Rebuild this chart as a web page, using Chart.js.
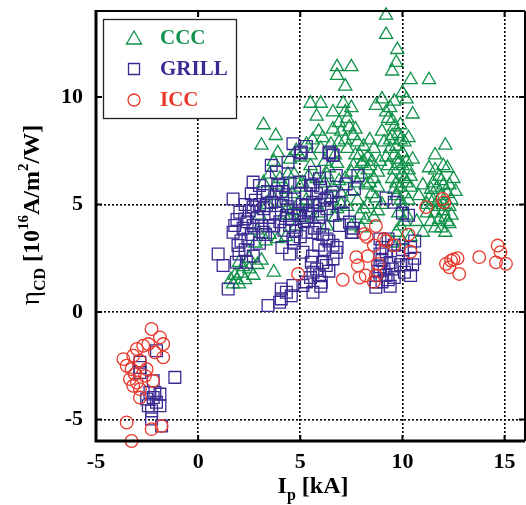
<!DOCTYPE html>
<html>
<head>
<meta charset="utf-8">
<script src="https://cdn.jsdelivr.net/npm/chart.js@4/dist/chart.umd.min.js"></script>
<style>
html,body{margin:0;padding:0;background:#fff;}
#wrap{width:526px;height:505px;}
</style>
</head>
<body>
<div id="wrap"><canvas id="c" width="526" height="505"></canvas></div>
<script>
// ---- data ----
const seriesNames = ['CCC', 'GRILL', 'ICC'];
const xTicks = [-5, 0, 5, 10, 15];
const yTicks = [-5, 0, 5, 10];

const cccPoints = [
  [9.2,13.8],[9.2,12.9],[9.75,12.2],[9.7,11.6],[9.5,11.2],[10.4,10.8],[11.3,10.8],[10.0,10.2],[10.2,9.9],[10.5,9.2],
  [9.0,9.9],[8.7,9.6],[9.2,9.3],[9.5,8.9],[9.3,9.0],[9.6,8.6],[9.8,8.3],[9.5,8.2],[9.9,8.0],[10.1,7.9],
  [9.7,7.7],[9.4,7.6],[10.0,7.4],[10.2,7.0],[9.8,7.1],[10.5,7.1],[9.6,6.6],[10.0,6.4],[10.2,6.0],[9.9,5.8],
  [10.1,5.5],[10.3,5.2],[9.7,5.4],[10.0,4.9],[10.2,4.5],[9.9,4.0],[10.4,3.5],[9.5,3.2],[10.0,6.8],[10.3,6.6],
  [9.4,8.0],[9.6,7.3],[9.8,6.9],[9.5,6.2],[9.7,6.0],[10.1,6.2],[9.9,5.2],[10.4,5.8],[10.4,6.3],[9.6,5.7],
  [9.8,4.6],[10.1,4.2],[9.7,3.7],[10.0,3.3],[9.3,6.8],[9.2,7.2],[9.0,8.4],[9.1,7.9],[10.3,8.1],[9.9,8.7],
  [9.4,9.5],[9.6,9.8],
  [6.8,11.4],[7.5,11.4],[6.8,11.0],[7.2,10.5],[7.1,9.7],[5.5,9.7],[6.0,9.7],[7.2,9.3],[5.8,9.1],[6.9,8.8],
  [7.0,8.4],[7.4,8.6],[6.6,8.5],[7.6,8.2],[7.8,7.9],[8.1,7.7],[7.2,8.0],[6.9,7.9],[8.3,7.2],[8.5,7.0],
  [7.7,7.3],[8.0,6.9],[8.3,6.6],[8.6,6.2],[8.8,5.8],[8.2,5.9],[8.5,5.5],[9.0,5.0],[8.1,4.8],[8.6,4.4],
  [7.5,6.5],[7.2,6.2],[7.8,5.2],[7.3,4.9],[8.2,4.3],[7.5,4.0],[7.0,5.5],[6.4,6.7],[6.2,6.0],[6.7,7.3],
  [6.0,7.6],[5.6,8.0],[5.9,8.4],[5.3,7.8],[5.0,7.2],[5.5,6.8],[6.5,5.3],[6.8,4.8],
  [7.3,7.6],[7.9,7.3],[8.1,7.0],[7.6,6.8],[8.4,6.8],[8.0,6.4],[7.8,6.0],[8.4,6.0],[7.5,5.6],[8.7,5.3],
  [8.3,5.0],[7.9,4.5],[8.8,4.7],[8.0,3.9],[8.8,6.5],[8.9,7.0],[8.6,7.6],[8.4,8.0],[7.7,8.5],[7.3,9.0],
  [7.5,9.5],[6.6,9.3],
  [5.5,7.3],[6.2,7.0],[6.5,7.8],[6.1,8.1],[6.8,6.9],[6.3,6.4],[5.8,6.2],[6.9,6.1],[5.4,6.3],[5.1,6.0],
  [4.7,6.4],[6.6,5.8],[7.0,5.0],[6.7,4.4],
  [12.1,7.75],[11.6,7.3],[11.3,6.7],[12.2,6.7],[12.5,6.2],[11.8,6.3],[11.0,5.9],[11.4,5.7],[11.7,5.8],[12.0,5.9],
  [12.2,5.5],[11.5,5.2],[11.9,5.4],[12.3,4.9],[11.2,4.6],[11.6,4.6],[12.1,4.4],[12.3,4.1],[11.6,3.9],[11.0,3.7],
  [12.1,3.7],[11.8,4.9],[10.8,5.4],[10.7,4.2],[12.4,5.2],[12.0,5.0],
  [11.5,6.0],[11.9,6.1],[12.3,5.9],[11.3,5.3],[11.7,5.1],[12.0,4.7],[11.4,4.2],[11.8,4.3],[12.4,4.5],[11.9,3.9],
  [11.2,5.0],[11.6,6.6],[12.0,6.8],[12.6,5.6],[12.2,4.2],
  [3.2,8.7],[3.8,8.2],[3.1,7.75],[3.9,7.4],[3.7,7.0],[4.8,7.5],[4.5,7.1],[3.2,6.0],[3.5,6.4],[4.0,6.2],
  [4.3,5.7],[3.6,5.4],[4.1,5.1],[4.6,5.5],[5.0,5.8],[5.3,5.2],[4.8,4.0],[4.2,4.5],[3.5,3.6],[3.9,3.4],
  [3.0,4.5],[2.8,3.2],[2.5,2.5],[2.9,2.2],[3.7,1.85],[4.5,4.5],[5.6,4.3],[6.0,4.6],[5.8,5.0],[6.3,4.0],
  [3.4,5.0],[3.8,5.9],[4.4,6.4],[4.9,5.0],[4.6,4.7],[3.3,3.3],[2.9,3.8],[4.3,3.5],[5.1,4.4],
  [1.9,1.5],[1.7,1.3],[2.1,1.8],[2.3,1.5],[2.0,1.3],[1.8,1.7],[2.2,2.1],[2.0,2.3],[1.6,1.5],[2.5,2.0],
  [2.7,1.7],[3.1,2.4]
];

const grillPoints = [
  [-2.04,-1.8],[-2.85,-2.34],[-2.85,-2.58],[-2.85,-2.81],[-1.14,-3.04],[-2.2,-3.2],[-2.36,-3.74],[-2.12,-3.74],
  [-1.87,-3.82],[-2.2,-3.98],[-2.04,-4.2],[-2.44,-4.36],[-1.87,-4.36],[-2.28,-4.6],[-1.79,-5.3],[-2.52,-4.05],[-2.28,-4.98],
  [0.98,2.7],[1.22,2.16],[1.47,1.07],[1.71,5.26],[2.04,4.64],[1.79,4.02],[1.71,3.71],[1.95,3.09],[1.87,2.31],
  [2.36,2.31],[2.44,3.4],[2.28,4.33],[2.69,4.88],[2.69,4.02],[2.69,6.04],[3.0,5.88],[3.18,5.42],[3.34,4.95],
  [3.18,3.71],[3.5,4.02],[3.58,6.82],[3.83,6.5],[3.83,5.57],[4.07,4.95],[4.15,5.88],[4.32,4.49],[4.48,4.02],
  [4.64,7.83],[4.4,6.97],[5.05,7.44],[4.97,6.04],[4.72,5.26],[4.97,4.49],[5.29,4.95],[5.62,5.88],[5.94,6.2],
  [6.43,7.44],[6.6,7.28],[6.76,6.35],[7.25,5.96],[7.82,6.35],[7.65,5.73],[6.6,5.57],[6.3,5.3],[5.95,5.0],
  [5.6,4.7],[5.3,4.4],[5.6,3.7],[5.95,4.0],[6.3,3.4],[6.6,3.1],[7.41,4.18],[7.57,3.71],[6.92,4.02],[5.29,3.71],
  [4.64,3.4],[4.48,2.7],[5.13,2.78],[5.54,2.31],[5.62,1.85],[5.94,1.69],[6.27,2.16],[6.6,2.47],[6.76,2.78],
  [6.03,1.38],[5.62,0.92],[5.13,1.23],[4.64,1.23],[4.32,0.92],[4.07,1.07],[4.07,0.61],[3.99,0.45],[3.42,0.3],[4.56,0.76],
  [2.2,3.9],[2.4,4.2],[2.6,3.6],[2.1,3.3],[2.3,2.9],[2.7,2.6],[2.5,4.7],[2.9,4.4],[3.1,4.0],[3.3,3.6],
  [3.0,3.2],[2.8,5.2],[3.4,5.6],[3.6,5.1],[3.8,4.6],[4.0,4.2],[4.2,3.8],[3.7,4.0],[3.5,4.4],[4.4,4.9],
  [4.6,4.3],[4.8,3.8],[5.0,3.5],[5.2,4.2],[5.4,4.6],[5.6,5.1],[5.8,5.5],[6.0,5.8],[6.2,5.2],[5.9,4.4],
  [5.7,3.9],[6.1,3.6],[6.3,4.8],[6.5,5.4],[5.5,5.9],[5.3,5.5],[5.1,5.0],[4.9,4.6],[4.3,5.3],[3.9,5.9],
  [2.6,5.5],[6.6,4.5],[6.4,3.3],[6.8,3.0],[6.2,2.9],[5.9,3.1],[5.6,2.6],[5.8,2.0],[6.1,2.3],[6.4,1.9],
  [5.5,1.6],[6.0,1.2],[5.3,1.4],[2.0,2.7],[1.9,4.3],[2.3,5.0],[4.7,3.2],[4.1,3.0],[3.2,4.8],[3.0,5.0],
  [4.5,6.0],[4.1,5.6],[5.7,6.5],[6.9,5.1],[7.1,4.6],
  [8.7,1.4],[8.7,1.15],[9.0,1.4],[9.2,1.7],[8.9,2.1],[9.0,2.4],[8.9,2.7],[9.0,3.0],[9.3,3.4],[8.9,3.4],
  [9.6,3.1],[9.8,2.6],[9.9,2.2],[10.1,1.85],[10.4,1.7],[10.5,2.2],[10.4,3.0],[10.6,2.5],[10.2,2.2],[9.5,2.0],
  [9.3,1.5],[8.9,1.7],[9.2,2.8],[9.6,1.6],[9.4,2.3],[10.0,2.9],[10.6,3.3],[9.1,2.0],[9.4,1.2],[8.8,1.9],
  [9.6,5.1],[10.3,4.5],[10.0,4.6],[9.2,5.3],[7.5,3.7],[7.6,3.9],[5.3,7.7],[5.0,7.4],[6.4,7.4],[6.6,7.3]
];

const iccPoints = [
  [-2.28,-0.79],[-1.87,-1.18],[-1.71,-1.49],[-2.44,-1.49],[-3.0,-1.72],[-2.69,-1.57],[-3.18,-2.03],[-3.66,-2.19],
  [-1.71,-2.11],[-2.12,-1.88],[-3.5,-2.5],[-3.26,-2.66],[-2.52,-2.66],[-3.34,-3.12],[-3.0,-3.28],[-2.85,-3.59],
  [-3.18,-3.43],[-2.6,-2.97],[-2.85,-3.98],[-2.2,-3.2],[-3.5,-5.14],[-3.26,-6.0],[-2.28,-5.45],[-1.79,-5.3],
  [-2.85,-2.27],[-3.1,-2.89],
  [4.89,1.77],[7.08,1.5],[7.74,2.55],[7.82,2.16],[7.9,1.6],[8.2,1.7],[8.14,3.63],[8.25,3.5],[8.7,4.0],[8.6,3.1],
  [9.1,3.4],[9.2,3.3],[8.8,2.24],[8.7,1.7],[8.6,1.4],[9.6,3.1],[10.3,3.6],[10.4,2.8],[8.3,2.6],
  [11.16,4.88],[11.97,5.26],[12.05,5.1],[12.13,2.24],[12.38,2.39],[12.5,2.45],[12.7,2.5],[12.3,2.08],[12.78,1.77],
  [13.76,2.55],[14.66,3.09],[14.8,2.78],[14.58,2.31],[15.07,2.24]
];

const colors = { CCC: '#11924a', GRILL: '#3b2a92', ICC: '#e8382c' };

function toXY(arr) { return arr.map(p => ({ x: p[0], y: p[1] })); }

const serif = '"Liberation Serif", "DejaVu Serif", serif';

const framePlugin = {
  id: 'frame',
  afterDatasetsDraw(chart) {
    const { ctx, chartArea: a, scales } = chart;
    ctx.save();
    ctx.strokeStyle = '#000';
    ctx.lineWidth = 2;
    ctx.beginPath(); ctx.moveTo(a.left, a.top); ctx.lineTo(a.right, a.top); ctx.stroke();
    ctx.beginPath(); ctx.moveTo(a.right, a.top); ctx.lineTo(a.right, a.bottom); ctx.stroke();
    ctx.lineWidth = 3;
    ctx.beginPath(); ctx.moveTo(a.left, a.top - 1); ctx.lineTo(a.left, a.bottom); ctx.lineTo(a.right, a.bottom); ctx.stroke();
    ctx.lineWidth = 2;
    xTicks.forEach(v => {
      const px = scales.x.getPixelForValue(v);
      ctx.beginPath(); ctx.moveTo(px, a.top); ctx.lineTo(px, a.top + 6); ctx.stroke();
      ctx.beginPath(); ctx.moveTo(px, a.bottom); ctx.lineTo(px, a.bottom - 6); ctx.stroke();
    });
    yTicks.forEach(v => {
      const py = scales.y.getPixelForValue(v);
      ctx.beginPath(); ctx.moveTo(a.left, py); ctx.lineTo(a.left + 6, py); ctx.stroke();
      ctx.beginPath(); ctx.moveTo(a.right, py); ctx.lineTo(a.right - 6, py); ctx.stroke();
    });
    ctx.restore();
  },
  afterDraw(chart) {
    const ctx = chart.ctx;
    ctx.save();
    // legend box
    ctx.fillStyle = '#fff';
    ctx.fillRect(103, 19, 133, 99);
    ctx.strokeStyle = '#222';
    ctx.lineWidth = 1.3;
    ctx.strokeRect(103.5, 19.5, 133, 99);
    const rows = [38, 69, 100];
    seriesNames.forEach((name, i) => {
      const cy = rows[i], cx = 134;
      ctx.strokeStyle = colors[name];
      ctx.lineWidth = 1.3;
      ctx.beginPath();
      if (name === 'CCC') {
        ctx.moveTo(cx, cy - 7); ctx.lineTo(cx + 7.5, cy + 6); ctx.lineTo(cx - 7.5, cy + 6); ctx.closePath();
      } else if (name === 'GRILL') {
        ctx.rect(cx - 5.5, cy - 5.5, 11, 11);
      } else {
        ctx.arc(cx, cy, 6, 0, Math.PI * 2);
      }
      ctx.stroke();
      ctx.fillStyle = colors[name];
      ctx.font = 'bold 21px ' + serif;
      ctx.textBaseline = 'middle';
      ctx.textAlign = 'left';
      ctx.fillText(name, 160, cy + 1);
    });

    // y-axis title (rotated)
    ctx.save();
    ctx.translate(39, 215);
    ctx.rotate(-Math.PI / 2);
    ctx.fillStyle = '#000';
    ctx.textBaseline = 'alphabetic';
    const parts = [
      { t: '\u03B7', f: '27px ' + serif, dy: 0 },
      { t: 'CD', f: 'bold 16px ' + serif, dy: 6 },
      { t: ' [10', f: 'bold 24px ' + serif, dy: 0 },
      { t: '16', f: 'bold 15px ' + serif, dy: -11 },
      { t: 'A/m', f: 'bold 24px ' + serif, dy: 0 },
      { t: '2', f: 'bold 15px ' + serif, dy: -11 },
      { t: '/W]', f: 'bold 24px ' + serif, dy: 0 }
    ];
    let total = 0;
    parts.forEach(p => { ctx.font = p.f; p.w = ctx.measureText(p.t).width; total += p.w; });
    let x0 = -total / 2;
    parts.forEach(p => { ctx.font = p.f; ctx.fillText(p.t, x0, p.dy); x0 += p.w; });
    ctx.restore();

    // x-axis title
    ctx.fillStyle = '#000';
    ctx.textBaseline = 'alphabetic';
    const xp = [
      { t: 'I', f: 'bold 24px ' + serif, dy: 0 },
      { t: 'p', f: 'bold 16px ' + serif, dy: 7 },
      { t: ' [kA]', f: 'bold 24px ' + serif, dy: 0 }
    ];
    let tw = 0;
    xp.forEach(p => { ctx.font = p.f; p.w = ctx.measureText(p.t).width; tw += p.w; });
    let xx = 313 - tw / 2;
    xp.forEach(p => { ctx.font = p.f; ctx.fillText(p.t, xx, 493 + p.dy); xx += p.w; });
    ctx.restore();
  }
};

const tickFont = { family: serif, size: 22, weight: 'bold' };

function zeroPad(s) { s.paddingTop = 0; s.paddingBottom = 0; s.paddingLeft = 0; s.paddingRight = 0; }

new Chart(document.getElementById('c'), {
  type: 'scatter',
  data: {
    datasets: [
      { label: seriesNames[0], data: toXY(cccPoints), order: 3, pointStyle: 'triangle', pointRadius: 7.6,
        borderColor: colors.CCC, backgroundColor: 'rgba(0,0,0,0)', pointBorderWidth: 1.3, clip: false },
      { label: seriesNames[1], data: toXY(grillPoints), order: 2, pointStyle: 'rect', pointRadius: 8.3,
        borderColor: colors.GRILL, backgroundColor: 'rgba(0,0,0,0)', pointBorderWidth: 1.3, clip: false },
      { label: seriesNames[2], data: toXY(iccPoints), order: 1, pointStyle: 'circle', pointRadius: 6.3,
        borderColor: colors.ICC, backgroundColor: 'rgba(0,0,0,0)', pointBorderWidth: 1.3, clip: false }
    ]
  },
  options: {
    responsive: false,
    animation: false,
    events: [],
    layout: { autoPadding: false, padding: { top: 11, right: 1, left: 0, bottom: 0 } },
    plugins: { legend: { display: false }, tooltip: { enabled: false } },
    scales: {
      x: {
        type: 'linear', min: -5, max: 16,
        afterBuildTicks: s => { s.ticks = xTicks.map(v => ({ value: v })); },
        afterFit: s => { s.height = 64; zeroPad(s); },
        grid: { color: '#000', lineWidth: 1.6, drawTicks: false },
        border: { display: false, dash: [2, 2] },
        ticks: { padding: 8, color: '#000', font: tickFont, callback: v => String(v), maxRotation: 0 }
      },
      y: {
        type: 'linear', min: -6, max: 14,
        afterBuildTicks: s => { s.ticks = yTicks.map(v => ({ value: v })); },
        afterFit: s => { s.width = 96; zeroPad(s); },
        grid: { color: '#000', lineWidth: 1.6, drawTicks: false },
        border: { display: false, dash: [2, 2] },
        ticks: { padding: 13, color: '#000', font: tickFont, callback: v => String(v) }
      }
    }
  },
  plugins: [framePlugin]
});
</script>
</body>
</html>
